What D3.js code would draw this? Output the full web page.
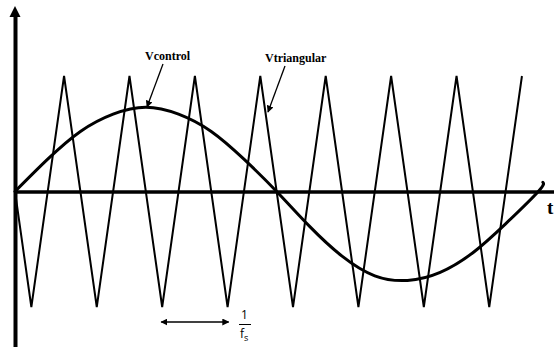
<!DOCTYPE html>
<html><head><meta charset="utf-8">
<script src="https://cdn.jsdelivr.net/npm/d3@7"></script>
<style>body{margin:0;background:#fff}svg{display:block}</style>
</head><body>
<svg id="c" width="554" height="347"></svg>
<script>
// Triangular carrier vertices (time in carrier periods, value normalized)
const triTimes = [0, 0.25, 0.75, 1.25, 1.75, 2.25, 2.75, 3.25, 3.75, 4.25, 4.75, 5.25, 5.75, 6.25, 6.75, 7.25, 7.75];
const triValues = [0, -1, 1, -1, 1, -1, 1, -1, 1, -1, 1, -1, 1, -1, 1, -1, 1];
// Control signal samples
const ctrlTimes = [0, 0.5, 1, 1.5, 2, 2.5, 3, 3.5, 4, 4.5, 5, 5.5, 6, 6.5, 7, 7.5, 8, 8.07];
const ctrlValues = [0, 0.28, 0.52, 0.67, 0.73, 0.67, 0.52, 0.28, 0, -0.30, -0.56, -0.73, -0.77, -0.70, -0.53, -0.28, 0, 0.08];
const labels = ["Vcontrol", "Vtriangular", "t"];

const svg = d3.select("#c");
const x = d3.scaleLinear().domain([0, 8.24]).range([15, 554]);
const y = d3.scaleLinear().domain([-1, 1]).range([307, 76]);

// defs: arrowheads
const defs = svg.append("defs");
defs.append("marker").attr("id", "ah").attr("viewBox", "0 0 10 10").attr("refX", 9).attr("refY", 5)
  .attr("markerWidth", 7).attr("markerHeight", 7).attr("orient", "auto-start-reverse")
  .attr("markerUnits", "userSpaceOnUse")
  .append("path").attr("d", "M0,0L10,5L0,10Z").attr("fill", "#000");

// axes
const xAxis = d3.axisBottom(x).ticks(0).tickSizeOuter(0);
svg.append("g").attr("transform", `translate(0,${y(0)})`).call(xAxis)
  .call(g => g.select(".domain").attr("stroke", "#000").attr("stroke-width", 3.5));
const yExt = y.copy().domain([y.invert(347), y.invert(16)]).range([347, 16]);
svg.append("g").attr("transform", `translate(${x(0)},0)`).call(d3.axisLeft(yExt).ticks(0).tickSizeOuter(0))
  .call(g => g.select(".domain").attr("stroke", "#000").attr("stroke-width", 4));
// y arrowhead
svg.append("path")
  .attr("d", d3.line()([[x(0) - 5.5, 17], [x(0), 6], [x(0) + 5.5, 17]]) + "Z")
  .attr("fill", "#000");

// triangle wave
const triData = triTimes.map((t, i) => [t, triValues[i]]);
svg.append("path").datum(triData)
  .attr("d", d3.line().x(d => x(d[0])).y(d => y(d[1])))
  .attr("fill", "none").attr("stroke", "#000").attr("stroke-width", 2).attr("stroke-linejoin", "miter");

// control wave
const ctrlData = ctrlTimes.map((t, i) => [t, ctrlValues[i]]);
svg.append("path").datum(ctrlData)
  .attr("d", d3.line().x(d => x(d[0])).y(d => y(d[1])).curve(d3.curveNatural))
  .attr("fill", "none").attr("stroke", "#000").attr("stroke-width", 3).attr("stroke-linecap", "round");

// labels
const serif = "'Liberation Serif','DejaVu Serif',serif";
svg.append("text").attr("x", 145).attr("y", 60).text(labels[0]).attr("fill", "#000")
  .attr("font-family", serif).attr("font-weight", "bold").attr("font-size", 12);
svg.append("text").attr("x", 265).attr("y", 62).text(labels[1]).attr("fill", "#000")
  .attr("font-family", serif).attr("font-weight", "bold").attr("font-size", 12);
svg.append("text").attr("x", 547).attr("y", 214).text(labels[2]).attr("fill", "#000")
  .attr("font-family", serif).attr("font-weight", "bold").attr("font-size", 19);

// pointer arrows
svg.append("line").attr("x1", 163).attr("y1", 64).attr("x2", 147).attr("y2", 107)
  .attr("stroke", "#000").attr("stroke-width", 1.3).attr("marker-end", "url(#ah)");
svg.append("line").attr("x1", 285).attr("y1", 66).attr("x2", 268).attr("y2", 112)
  .attr("stroke", "#000").attr("stroke-width", 1.3).attr("marker-end", "url(#ah)");

// period arrow (one carrier period between two minima)
svg.append("line").attr("x1", x(triTimes[5]) - 1).attr("y1", 322).attr("x2", x(triTimes[7]) + 1).attr("y2", 322)
  .attr("stroke", "#000").attr("stroke-width", 1.5)
  .attr("marker-start", "url(#ah)").attr("marker-end", "url(#ah)");
const sans = "'Open Sans','DejaVu Sans',sans-serif";
svg.append("text").attr("x", 244.5).attr("y", 319).attr("text-anchor", "middle").text("1")
  .attr("fill", "#000").attr("font-family", sans).attr("font-size", 12);
svg.append("line").attr("x1", 239).attr("x2", 251).attr("y1", 324.5).attr("y2", 324.5)
  .attr("stroke", "#000").attr("stroke-width", 1);
const fs = svg.append("text").attr("x", 240).attr("y", 337.5).attr("fill", "#000")
  .attr("font-family", sans).attr("font-size", 12);
fs.append("tspan").text("f");
fs.append("tspan").text("s").attr("font-size", 9).attr("dy", 3);
</script>
</body></html>
